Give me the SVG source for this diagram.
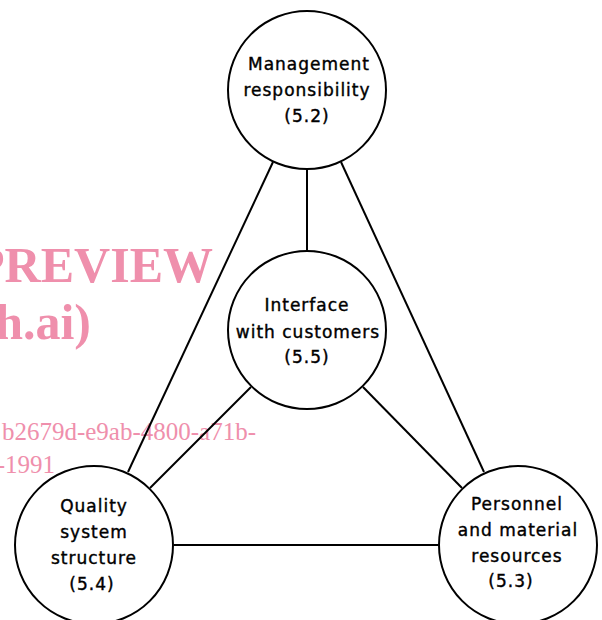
<svg xmlns="http://www.w3.org/2000/svg" width="602" height="620" viewBox="0 0 602 620">
<style>
.node circle{fill:#fff;stroke:#000;stroke-width:2}
.node text{font-family:"DejaVu Sans",sans-serif;font-size:17px;letter-spacing:1px;text-anchor:middle;fill:#000;stroke:#000;stroke-width:0.4}
.conn line{stroke:#000;stroke-width:2}
.wm{fill:#ef8fac;font-family:"Liberation Serif",serif}
</style>
<rect width="602" height="620" fill="#fff"/>
<g class="wm">
<text x="213" y="282" font-size="50" font-weight="bold" text-anchor="end">PREVIEW</text>
<text x="91" y="339" font-size="50" font-weight="bold" text-anchor="end">h.ai)</text>
<text x="256" y="440" font-size="25" text-anchor="end">b2679d-e9ab-4800-a71b-</text>
<text x="55" y="473" font-size="25" text-anchor="end">-1991</text>
</g>
<g class="conn">
<line x1="307" y1="170" x2="307" y2="250"/>
<line x1="273" y1="162" x2="128" y2="472"/>
<line x1="341" y1="162" x2="484" y2="472"/>
<line x1="251" y1="387" x2="150" y2="488"/>
<line x1="363" y1="387" x2="462" y2="488"/>
<line x1="174" y1="545" x2="438" y2="545"/>
</g>
<g id="management" class="node">
<circle cx="307" cy="90" r="79"/>
<text x="309" y="70">Management</text>
<text x="307" y="96">responsibility</text>
<text x="307" y="122">(5.2)</text>
</g>
<g id="interface" class="node">
<circle cx="307" cy="330" r="79"/>
<text x="307" y="311">Interface</text>
<text x="308" y="338">with customers</text>
<text x="307" y="363">(5.5)</text>
</g>
<g id="quality" class="node">
<circle cx="94" cy="545" r="79"/>
<text x="94" y="512">Quality</text>
<text x="94" y="538">system</text>
<text x="94" y="564">structure</text>
<text x="92" y="590">(5.4)</text>
</g>
<g id="personnel" class="node">
<circle cx="518" cy="545" r="79"/>
<text x="517" y="510">Personnel</text>
<text x="518" y="536">and material</text>
<text x="517" y="562">resources</text>
<text x="511" y="587">(5.3)</text>
</g>
</svg>
